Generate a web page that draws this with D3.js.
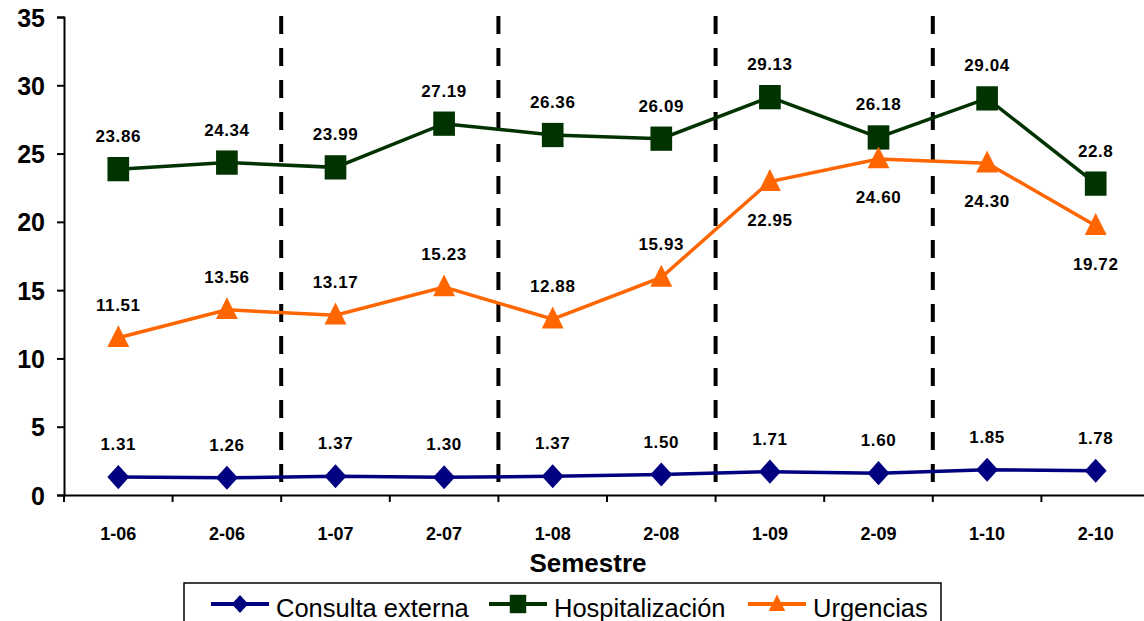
<!DOCTYPE html>
<html>
<head>
<meta charset="utf-8">
<script src="https://cdn.jsdelivr.net/npm/d3@7"></script>
<style>
  body { margin: 0; background: #fff; }
  svg { font-family: "Liberation Sans", Arial, sans-serif; }
</style>
</head>
<body>
<svg width="1144" height="621"></svg>
<script>
// data
let semestres = ["1-06", "2-06", "1-07", "2-07", "1-08", "2-08", "1-09", "2-09", "1-10", "2-10"];
let consulta = [1.31, 1.26, 1.37, 1.30, 1.37, 1.50, 1.71, 1.60, 1.85, 1.78];
let hospital = [23.86, 24.34, 23.99, 27.19, 26.36, 26.09, 29.13, 26.18, 29.04, 22.8];
let urgencias = [11.51, 13.56, 13.17, 15.23, 12.88, 15.93, 22.95, 24.60, 24.30, 19.72];
let consultaLbl = ["1.31", "1.26", "1.37", "1.30", "1.37", "1.50", "1.71", "1.60", "1.85", "1.78"];
let hospitalLbl = ["23.86", "24.34", "23.99", "27.19", "26.36", "26.09", "29.13", "26.18", "29.04", "22.8"];
let urgenciasLbl = ["11.51", "13.56", "13.17", "15.23", "12.88", "15.93", "22.95", "24.60", "24.30", "19.72"];
let yTicks = [0, 5, 10, 15, 20, 25, 30, 35];
let dividers = ["2-06", "2-07", "2-08", "2-09"]; // dashed line after these

let svg = d3.select("svg");

let x = d3.scaleBand()
  .domain(semestres)
  .range([64, 1150]);
let y = d3.scaleLinear()
  .domain([0, 35])
  .range([495, 17]);

// marker shapes: square diamond, slightly tall square, triangle
let diamond = {
  draw(ctx, size) {
    let r = Math.sqrt(size) / 2;
    ctx.moveTo(0, -r * 1.1); ctx.lineTo(r, 0); ctx.lineTo(0, r * 1.1); ctx.lineTo(-r, 0); ctx.closePath();
  }
};
let tallSquare = {
  draw(ctx, size) {
    let w = Math.sqrt(size) / 2;
    ctx.rect(-w, -w * 1.12, 2 * w, 2 * w * 1.12);
  }
};
let triangle = {
  draw(ctx, size) {
    let w = Math.sqrt(size) / 2;
    ctx.moveTo(0, -w * 1.15); ctx.lineTo(w, w * 0.85); ctx.lineTo(-w, w * 0.85); ctx.closePath();
  }
};

// y axis
let yAxis = svg.append("g")
  .attr("transform", "translate(64,0)")
  .call(d3.axisLeft(y).tickValues(yTicks).tickSize(7).tickPadding(12));
yAxis.select(".domain").attr("stroke", "#000").attr("stroke-width", 2);
yAxis.selectAll(".tick line").attr("stroke-width", 2);
yAxis.selectAll("text")
  .attr("font-size", 25).attr("font-weight", "bold").attr("fill", "#000")
  .attr("dy", "0.36em");

// x axis
let xAxis = svg.append("g")
  .attr("transform", "translate(0,495)")
  .call(d3.axisBottom(x).tickSize(0).tickPadding(34));
xAxis.select(".domain").attr("stroke", "#000").attr("stroke-width", 2);
xAxis.selectAll("text")
  .attr("font-size", 18).attr("font-weight", "bold").attr("fill", "#000")
  .attr("dy", "0.6em");
// category boundary ticks
xAxis.selectAll(".btick")
  .data(semestres.concat(["end"]))
  .enter().append("line")
    .attr("x1", (d, i) => x.range()[0] + i * x.step())
    .attr("x2", (d, i) => x.range()[0] + i * x.step())
    .attr("y1", 0).attr("y2", 7)
    .attr("stroke", "#000").attr("stroke-width", 2);

svg.append("text")
  .attr("x", 588).attr("y", 572)
  .attr("text-anchor", "middle")
  .attr("font-size", 26).attr("font-weight", "bold")
  .text("Semestre");

// dashed year dividers
svg.selectAll(".divider")
  .data(dividers)
  .enter().append("line")
    .attr("x1", d => x(d) + x.bandwidth())
    .attr("x2", d => x(d) + x.bandwidth())
    .attr("y1", 16).attr("y2", y(0))
    .attr("stroke", "#000").attr("stroke-width", 4)
    .attr("stroke-dasharray", "18,14");

let cx = d => x(d) + x.bandwidth() / 2;

let series = [
  { name: "Consulta externa", values: consulta, labels: consultaLbl, color: "#000080", symbol: diamond, size: 480, below: [] },
  { name: "Hospitalización", values: hospital, labels: hospitalLbl, color: "#003300", symbol: tallSquare, size: 470, below: [] },
  { name: "Urgencias", values: urgencias, labels: urgenciasLbl, color: "#ff6600", symbol: triangle, size: 480, below: [6, 7, 8, 9] }
];

let line = d3.line()
  .x((d, i) => cx(semestres[i]))
  .y(d => y(d));

series.forEach(s => {
  let g = svg.append("g");
  g.append("path")
    .datum(s.values)
    .attr("fill", "none")
    .attr("stroke", s.color)
    .attr("stroke-width", 3.5)
    .attr("d", line);

  g.selectAll(".pt")
    .data(s.values)
    .enter().append("path")
      .attr("transform", (d, i) => `translate(${cx(semestres[i])},${y(d)})`)
      .attr("d", d3.symbol().type(s.symbol).size(s.size))
      .attr("fill", s.color);

  g.selectAll(".lbl")
    .data(s.values)
    .enter().append("text")
      .attr("x", (d, i) => cx(semestres[i]))
      .attr("y", (d, i) => s.below.includes(i) ? y(d) + 44 : y(d) - 27)
      .attr("text-anchor", "middle")
      .attr("font-size", 17).attr("font-weight", "bold")
      .attr("letter-spacing", 0.6)
      .text((d, i) => s.labels[i]);
});

// legend
let lg = svg.append("g");
lg.append("rect")
  .attr("x", 184).attr("y", 583)
  .attr("width", 757).attr("height", 45)
  .attr("fill", "#fff").attr("stroke", "#000").attr("stroke-width", 1.5);

let legendX = [211, 489, 748];
series.forEach((s, i) => {
  let lx = legendX[i], ly = 604;
  lg.append("line")
    .attr("x1", lx).attr("x2", lx + 58)
    .attr("y1", ly).attr("y2", ly)
    .attr("stroke", s.color).attr("stroke-width", 4);
  lg.append("path")
    .attr("transform", `translate(${lx + 29},${ly})`)
    .attr("d", d3.symbol().type(s.symbol).size(270))
    .attr("fill", s.color);
  lg.append("text")
    .attr("x", lx + 65).attr("y", ly + 13)
    .attr("font-size", 25.5)
    .text(s.name);
});
</script>
</body>
</html>
